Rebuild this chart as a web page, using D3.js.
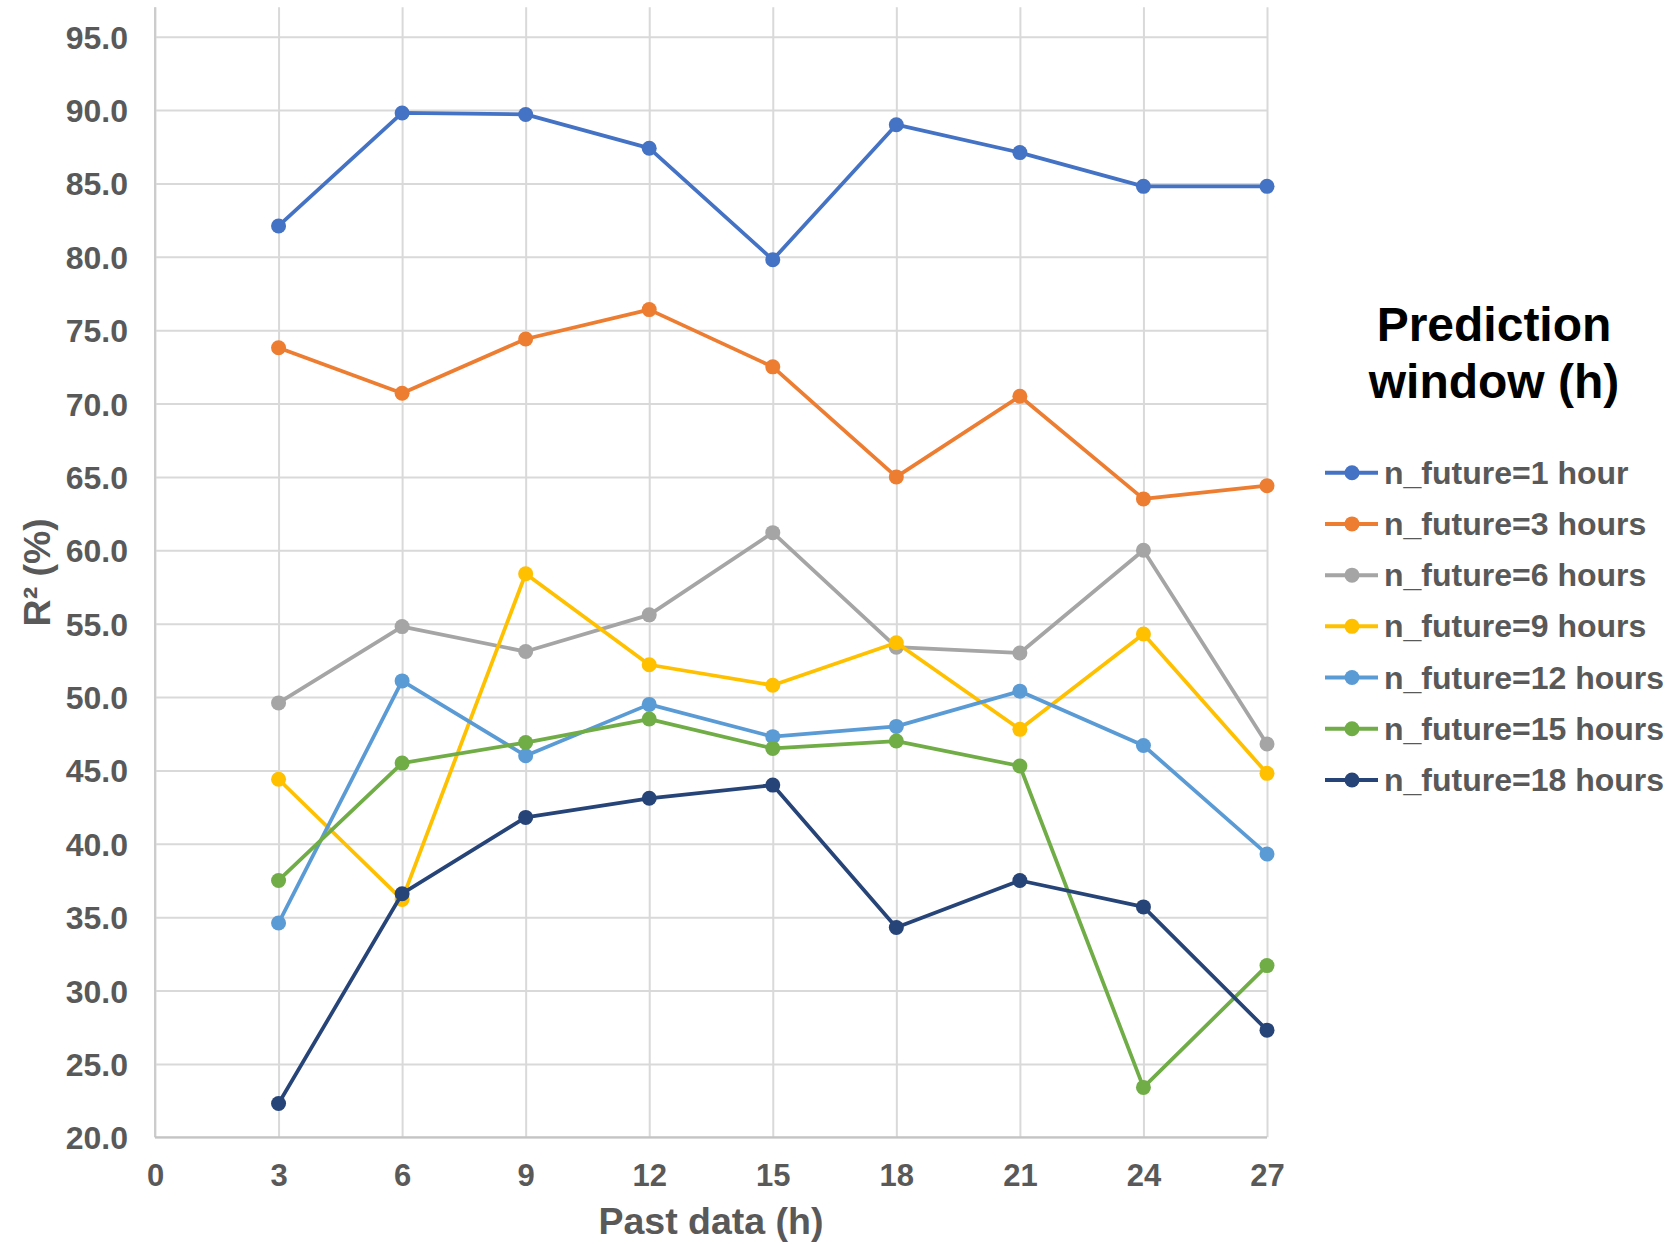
<!DOCTYPE html>
<html>
<head>
<meta charset="utf-8">
<script src="https://cdn.jsdelivr.net/npm/d3@7"></script>
<style>
  html, body { margin: 0; padding: 0; background: #ffffff; }
  svg { display: block; font-family: "Liberation Sans", Arial, sans-serif; }
</style>
</head>
<body>
<svg id="chart" width="1672" height="1244"></svg>
<script>
// Past data window (hours) on the x axis
const pastHours = [3, 6, 9, 12, 15, 18, 21, 24, 27];

// R² (%) for each prediction window
const r2_1h  = [82.1, 89.8, 89.7, 87.4, 79.8, 89.0, 87.1, 84.8, 84.8];
const r2_3h  = [73.8, 70.7, 74.4, 76.4, 72.5, 65.0, 70.5, 63.5, 64.4];
const r2_6h  = [49.6, 54.8, 53.1, 55.6, 61.2, 53.4, 53.0, 60.0, 46.8];
const r2_9h  = [44.4, 36.2, 58.4, 52.2, 50.8, 53.7, 47.8, 54.3, 44.8];
const r2_12h = [34.6, 51.1, 46.0, 49.5, 47.3, 48.0, 50.4, 46.7, 39.3];
const r2_15h = [37.5, 45.5, 46.9, 48.5, 46.5, 47.0, 45.3, 23.4, 31.7];
const r2_18h = [22.3, 36.6, 41.8, 43.1, 44.0, 34.3, 37.5, 35.7, 27.3];

const seriesNames = [
  "n_future=1 hour", "n_future=3 hours", "n_future=6 hours", "n_future=9 hours",
  "n_future=12 hours", "n_future=15 hours", "n_future=18 hours"
];
const seriesValues = [r2_1h, r2_3h, r2_6h, r2_9h, r2_12h, r2_15h, r2_18h];
const seriesColors = ["#4472C4", "#ED7D31", "#A5A5A5", "#FFC000", "#5B9BD5", "#70AD47", "#264478"];

// Axis ticks
const xTicks = [0, 3, 6, 9, 12, 15, 18, 21, 24, 27];
const yTicks = [20, 25, 30, 35, 40, 45, 50, 55, 60, 65, 70, 75, 80, 85, 90, 95];

const svg = d3.select("#chart");

const plot = { left: 155, right: 1267, top: 7.3, bottom: 1137.3 };

const x = d3.scaleLinear().domain([0, 27]).range([plot.left, plot.right]);
const y = d3.scaleLinear().domain([20, 97]).range([plot.bottom, plot.top]);

const textGrey = "#595959";
const gridGrey = "#d9d9d9";

// Horizontal gridlines
svg.append("g")
  .attr("transform", `translate(${plot.left},0)`)
  .call(d3.axisLeft(y).tickValues(yTicks).tickSize(-(plot.right - plot.left)).tickFormat(""))
  .call(g => g.select(".domain").remove())
  .call(g => g.selectAll("line").attr("stroke", gridGrey).attr("stroke-width", 2));

// Vertical gridlines
svg.append("g")
  .attr("transform", `translate(0,${plot.bottom})`)
  .call(d3.axisBottom(x).tickValues(xTicks).tickSize(-(plot.bottom - plot.top)).tickFormat(""))
  .call(g => g.select(".domain").remove())
  .call(g => g.selectAll("line").attr("stroke", gridGrey).attr("stroke-width", 2));

// Axis lines
svg.append("line")
  .attr("x1", plot.left).attr("x2", plot.left)
  .attr("y1", plot.top).attr("y2", plot.bottom)
  .attr("stroke", "#cccccc").attr("stroke-width", 2);
svg.append("line")
  .attr("x1", plot.left).attr("x2", plot.right)
  .attr("y1", plot.bottom).attr("y2", plot.bottom)
  .attr("stroke", "#c4c4c4").attr("stroke-width", 2);

// Y tick labels
const yAxis = svg.append("g")
  .attr("transform", `translate(${plot.left},0)`)
  .call(d3.axisLeft(y).tickValues(yTicks).tickSize(0).tickPadding(27).tickFormat(d3.format(".1f")));
yAxis.select(".domain").remove();
yAxis.selectAll("text")
  .attr("fill", textGrey)
  .attr("font-size", 32)
  .attr("font-weight", "bold")
  .attr("font-family", "Liberation Sans, Arial, sans-serif")
  .attr("dy", "0.36em");

// X tick labels
const xAxis = svg.append("g")
  .attr("transform", `translate(0,${plot.bottom})`)
  .call(d3.axisBottom(x).tickValues(xTicks).tickSize(0).tickPadding(27).tickFormat(d3.format("d")));
xAxis.select(".domain").remove();
xAxis.selectAll("text")
  .attr("fill", textGrey)
  .attr("font-size", 31)
  .attr("font-weight", "bold")
  .attr("font-family", "Liberation Sans, Arial, sans-serif")
  .attr("dy", "0.71em");

// Axis titles
svg.append("text")
  .attr("x", (plot.left + plot.right) / 2)
  .attr("y", 1234)
  .attr("text-anchor", "middle")
  .attr("fill", textGrey)
  .attr("font-size", 37.5)
  .attr("font-weight", "bold")
  .text("Past data (h)");

svg.append("text")
  .attr("transform", `translate(50,${(plot.top + plot.bottom) / 2}) rotate(-90)`)
  .attr("text-anchor", "middle")
  .attr("fill", textGrey)
  .attr("font-size", 37.5)
  .attr("font-weight", "bold")
  .text("R² (%)");

// Series lines and markers
const line = d3.line()
  .x((d, i) => x(pastHours[i]))
  .y(d => y(d));

seriesValues.forEach((vals, s) => {
  const g = svg.append("g").attr("class", "series");
  g.append("path")
    .datum(vals)
    .attr("d", line)
    .attr("fill", "none")
    .attr("stroke", seriesColors[s])
    .attr("stroke-width", 3.75)
    .attr("stroke-linejoin", "round");
  g.selectAll("circle")
    .data(vals)
    .join("circle")
    .attr("cx", (d, i) => x(pastHours[i]))
    .attr("cy", d => y(d))
    .attr("r", 7.5)
    .attr("fill", seriesColors[s]);
});

// Legend
const legend = svg.append("g");
legend.append("text")
  .attr("x", 1494).attr("y", 341)
  .attr("text-anchor", "middle")
  .attr("font-size", 48).attr("font-weight", "bold").attr("fill", "#000")
  .text("Prediction");
legend.append("text")
  .attr("x", 1494).attr("y", 398)
  .attr("text-anchor", "middle")
  .attr("font-size", 48).attr("font-weight", "bold").attr("fill", "#000")
  .text("window (h)");

const rowY = d3.scaleLinear().domain([0, 6]).range([472.7, 780]);
seriesNames.forEach((name, i) => {
  const yy = rowY(i);
  legend.append("line")
    .attr("x1", 1325).attr("x2", 1378)
    .attr("y1", yy).attr("y2", yy)
    .attr("stroke", seriesColors[i]).attr("stroke-width", 4);
  legend.append("circle")
    .attr("cx", 1352).attr("cy", yy).attr("r", 7.5)
    .attr("fill", seriesColors[i]);
  legend.append("text")
    .attr("x", 1384).attr("y", yy + 11)
    .attr("font-size", 32).attr("font-weight", "bold").attr("fill", textGrey)
    .text(name);
});
</script>
</body>
</html>
